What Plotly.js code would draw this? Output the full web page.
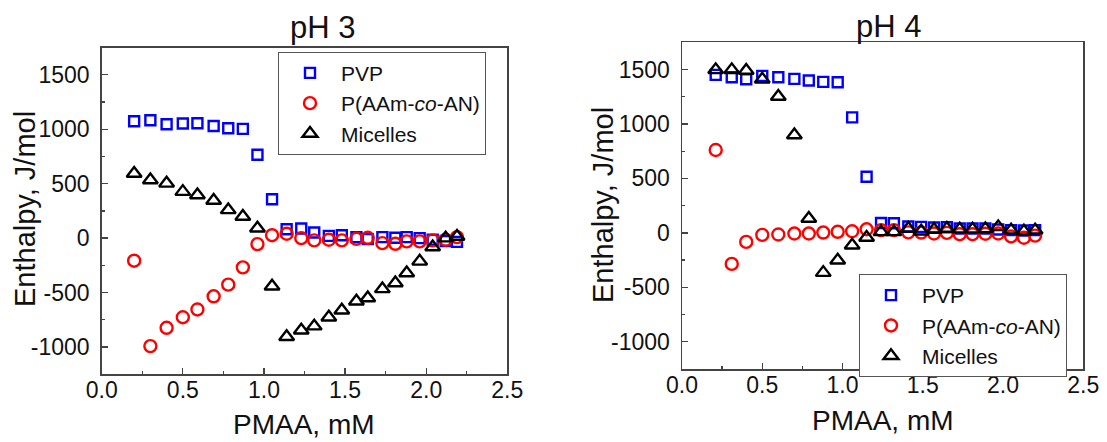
<!DOCTYPE html>
<html>
<head>
<meta charset="utf-8">
<script src="https://cdn.plot.ly/plotly-3.0.1.min.js"></script>
<style>
  html, body { margin: 0; padding: 0; background: #fff; }
  #chart { width: 1107px; height: 442px; }
</style>
</head>
<body>
<div id="chart"></div>
<script>
// ---- data ----
const seriesNames = ["PVP", "P(AAm-<i>co</i>-AN)", "Micelles"];

const xPH3 = [0.20,0.30,0.40,0.50,0.59,0.69,0.78,0.87,0.96,1.05,1.14,1.23,1.31,1.40,1.48,1.57,1.64,1.73,1.81,1.88,1.96,2.04,2.12,2.19];
const pvpPH3 = [1073,1082,1046,1052,1055,1030,1009,1003,765,357,82,88,52,21,27,9,-9,9,3,9,0,-15,-27,-34];
const aamPH3 = [-207,-991,-823,-726,-655,-534,-427,-268,-55,27,40,0,-21,-15,-21,-6,3,-46,-52,-30,-30,-21,-15,9];
const micPH3 = [594,534,503,427,396,345,259,198,91,-442,-905,-845,-808,-726,-662,-579,-549,-466,-412,-320,-213,-82,0,15];

const xPH4 = [0.21,0.31,0.40,0.50,0.60,0.70,0.79,0.88,0.97,1.06,1.15,1.24,1.32,1.41,1.49,1.57,1.65,1.73,1.81,1.89,1.97,2.05,2.13,2.20];
const pvpPH4 = [1451,1429,1411,1442,1429,1414,1399,1387,1383,1061,515,90,88,58,55,49,52,40,40,40,31,25,22,25];
const aamPH4 = [761,-285,-83,-18,-15,-6,-6,3,10,15,33,25,25,5,3,-6,0,-12,-12,-8,-6,-33,-45,-25];
const micPH4 = [1497,1497,1491,1411,1252,899,132,-365,-252,-113,-43,9,9,40,15,31,40,34,34,37,55,25,15,25];

const panelTitles = ["pH 3", "pH 4"];
const xTitle = "PMAA, mM";
const yTitle = "Enthalpy, J/mol";
const xTickVals = [0, 0.5, 1.0, 1.5, 2.0, 2.5];
const xTickText = ["0.0", "0.5", "1.0", "1.5", "2.0", "2.5"];
const yTickVals = [-1000, -500, 0, 500, 1000, 1500];
const yTickText = ["-1000", "-500", "0", "500", "1000", "1500"];

// ---- styles ----
const FONT = "Liberation Sans, Arial, sans-serif";
const W = 1107, H = 442;
const styles = [
  {symbol: "square-open", color: "#0000ff", size: 10, lw: 2.4},
  {symbol: "circle-open", color: "#ff0000", size: 12, lw: 2.4},
  {symbol: "triangle-up-open", color: "#000000", size: 13, lw: 2.4}
];

function mk(x, y, i, xa, ya, leg) {
  const s = styles[i];
  return {
    type: "scatter", mode: "markers", x: x, y: y, name: seriesNames[i],
    xaxis: xa, yaxis: ya, legend: leg,
    marker: {symbol: s.symbol, size: s.size, color: s.color, line: {color: s.color, width: s.lw}},
    hoverinfo: "x+y"
  };
}

const traces = [
  mk(xPH3, pvpPH3, 0, "x", "y", "legend"),
  mk(xPH3, aamPH3, 1, "x", "y", "legend"),
  mk(xPH3, micPH3, 2, "x", "y", "legend"),
  mk(xPH4, pvpPH4, 0, "x2", "y2", "legend2"),
  mk(xPH4, aamPH4, 1, "x2", "y2", "legend2"),
  mk(xPH4, micPH4, 2, "x2", "y2", "legend2")
];

function xAxis(domain, anchor) {
  return {
    domain: domain, anchor: anchor, range: [0, 2.5],
    tickmode: "array", tickvals: xTickVals, ticktext: xTickText,
    ticks: "inside", ticklen: 6, tickwidth: 1.3, tickcolor: "#444",
    minor: {ticks: "inside", ticklen: 3, tickwidth: 1.3, tickcolor: "#444", tickmode: "linear", tick0: 0, dtick: 0.25},
    showline: true, linecolor: "#444", linewidth: 1.5, mirror: true,
    showgrid: false, zeroline: false,
    tickfont: {family: FONT, size: 23, color: "#111"},
    ticklabelstandoff: -5
  };
}
function yAxis(domain, anchor) {
  return {
    domain: domain, anchor: anchor, range: [-1250, 1750],
    tickmode: "array", tickvals: yTickVals, ticktext: yTickText,
    ticks: "inside", ticklen: 6, tickwidth: 1.3, tickcolor: "#444",
    minor: {ticks: "inside", ticklen: 3, tickwidth: 1.3, tickcolor: "#444", tickmode: "linear", tick0: 0, dtick: 250},
    showline: true, linecolor: "#444", linewidth: 1.5, mirror: true,
    showgrid: false, zeroline: false,
    tickfont: {family: FONT, size: 23, color: "#111"},
    ticklabelstandoff: 6
  };
}

const L = {x: [101.7, 507.3], y: [47.5, 374.3]};
const R = {x: [682, 1083.3], y: [42.3, 369]};
const px = (a) => a.map(v => v / W);
const py = (a) => [1 - a[1] / H, 1 - a[0] / H];

function legendAt(left, top) {
  return {
    x: left / W, y: 1 - top / H, xanchor: "left", yanchor: "top",
    bgcolor: "#fff", bordercolor: "#555", borderwidth: 1,
    font: {family: FONT, size: 21, color: "#111"},
    itemwidth: 52, tracegroupgap: 0
  };
}

function ann(text, x, y, size, rot) {
  return {text: text, x: x / W, y: 1 - y / H, xref: "paper", yref: "paper",
    showarrow: false, xanchor: "center", yanchor: "middle", textangle: rot || 0,
    font: {family: FONT, size: size, color: "#111"}};
}

const layout = {
  width: W, height: H,
  margin: {l: 0, r: 0, t: 0, b: 0},
  paper_bgcolor: "#fff", plot_bgcolor: "#fff",
  showlegend: true,
  xaxis: xAxis(px(L.x), "y"),
  yaxis: yAxis(py(L.y), "x"),
  xaxis2: xAxis(px(R.x), "y2"),
  yaxis2: yAxis(py(R.y), "x2"),
  legend: legendAt(278, 51.7),
  legend2: legendAt(859, 274),
  annotations: [
    ann(panelTitles[0], 322, 27, 31),
    ann(panelTitles[1], 888, 26, 31),
    ann(xTitle, 304, 424, 28),
    ann(xTitle, 883, 420, 28),
    ann(yTitle, 25, 209, 29, -90),
    ann(yTitle, 603, 205, 29, -90)
  ]
};

Plotly.newPlot("chart", traces, layout, {displayModeBar: false, staticPlot: true});
</script>
</body>
</html>
